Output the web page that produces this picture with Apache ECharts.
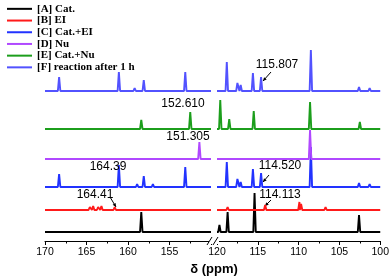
<!DOCTYPE html>
<html>
<head>
<meta charset="utf-8">
<script src="https://cdn.jsdelivr.net/npm/echarts@6/dist/echarts.min.js"></script>
<style>html,body{margin:0;padding:0;background:#fff;}#c{width:392px;height:277px;}</style>
</head>
<body>
<div id="c"></div>
<script>
// ---- data ----
const traceNames = ['[A] Cat.', '[B] EI', '[C] Cat.+EI', '[D] Nu', '[E] Cat.+Nu', '[F] reaction after 1 h'];
const traceColors = ['#000000', '#ff1a1a', '#2233ff', '#b048ff', '#1c9e1c', '#5252ff'];
// vertical stacking offsets of each trace (intensity units)
const traceOffsets = [9, 31, 54, 82, 112, 150];
// peaks: [ppm, height]
const peaksA = [[158.4, 20], [119.7, 7], [118.7, 20], [115.4, 39], [102.6, 17]];
const peaksB = [[164.6, 3], [164.2, 4], [163.6, 3], [163.2, 4], [161.6, 3], [158.4, 2], [118.7, 3], [114.1, 5], [109.9, 8], [109.7, 6], [106.7, 3]];
const peaksC = [[168.3, 13], [161.1, 22], [158.9, 3], [158.1, 11], [157.0, 3], [153.1, 20], [118.8, 25], [117.5, 8], [117.1, 5], [115.6, 18], [114.6, 14], [108.5, 40], [102.6, 4], [101.3, 3]];
const peaksD = [[151.4, 17], [108.6, 29]];
const peaksE = [[158.4, 9], [152.5, 17], [119.6, 29], [118.5, 10], [115.5, 18], [108.6, 27], [102.5, 7]];
const peaksF = [[168.3, 14], [161.1, 19], [159.2, 3], [158.1, 11], [153.1, 19], [118.8, 29], [117.5, 8], [117.1, 6], [115.6, 18], [114.6, 14], [108.5, 41], [102.6, 4], [101.3, 3]];
const allPeaks = [peaksA, peaksB, peaksC, peaksD, peaksE, peaksF];
const leftRange = [150, 170];
const rightRange = [100, 120];
const tickStep = 5;

function buildLine(peaks, base, range) {
  const w = 0.15;
  const pts = [[range[0], base]];
  peaks.filter(p => p[0] >= range[0] && p[0] <= range[1])
    .sort((a, b) => a[0] - b[0])
    .forEach(p => {
      pts.push([p[0] - w, base], [p[0], base + p[1]], [p[0] + w, base]);
    });
  pts.push([range[1], base]);
  return pts;
}

const series = [];
allPeaks.forEach((pk, i) => {
  [leftRange, rightRange].forEach((rg, g) => {
    series.push({
      type: 'line', name: traceNames[i], xAxisIndex: g, yAxisIndex: g,
      data: buildLine(pk, traceOffsets[i], rg),
      showSymbol: false, symbol: 'none', animation: false,
      lineStyle: { color: traceColors[i], width: 1.9 },
      itemStyle: { color: traceColors[i] }
    });
  });
});

const axisCommon = {
  type: 'value', inverse: true, interval: tickStep,
  axisLine: { show: true, lineStyle: { color: '#000', width: 1 } },
  axisTick: { show: true, inside: false, length: 4, lineStyle: { color: '#000' } },
  minorTick: { show: true, splitNumber: 2, length: 2.5, lineStyle: { color: '#000' } },
  axisLabel: { color: '#000', fontSize: 10.5, fontFamily: 'Liberation Sans, Arial, sans-serif', margin: 6 },
  splitLine: { show: false }
};

const chart = echarts.init(document.getElementById('c'), null, { renderer: 'canvas' });

function arrow(x1, y1, x2, y2) {
  const ang = Math.atan2(y2 - y1, x2 - x1);
  const L = 4, a = 0.45;
  return [
    { type: 'line', shape: { x1: x1, y1: y1, x2: x2, y2: y2 }, style: { stroke: '#000', lineWidth: 1 } },
    { type: 'polygon', shape: { points: [[x2, y2], [x2 - L * Math.cos(ang - a), y2 - L * Math.sin(ang - a)], [x2 - L * Math.cos(ang + a), y2 - L * Math.sin(ang + a)]] }, style: { fill: '#000' } }
  ];
}
const annFont = '12px "Liberation Sans", Arial, sans-serif';
function label(txt, x, y) {
  return { type: 'text', x: x, y: y, style: { text: txt, font: annFont, fill: '#000', align: 'center', verticalAlign: 'middle' }, z: 10 };
}

chart.setOption({
  animation: false,
  backgroundColor: '#fff',
  legend: {
    orient: 'vertical', left: 2, top: -2, itemGap: 0,
    itemWidth: 25, itemHeight: 2, icon: 'rect',
    data: traceNames,
    textStyle: { fontFamily: '"Liberation Serif", "Times New Roman", serif', fontWeight: 'bold', fontSize: 11, color: '#000', lineHeight: 11.7 }
  },
  grid: [
    { left: 45, width: 166, top: 41, height: 200 },
    { left: 217, width: 167, top: 41, height: 200 }
  ],
  xAxis: [
    Object.assign({}, axisCommon, { gridIndex: 0, min: leftRange[0], max: leftRange[1],
      axisLabel: Object.assign({}, axisCommon.axisLabel, { showMinLabel: false }) }),
    Object.assign({}, axisCommon, { gridIndex: 1, min: rightRange[0], max: rightRange[1] })
  ],
  yAxis: [
    { type: 'value', gridIndex: 0, min: 0, max: 200, show: false },
    { type: 'value', gridIndex: 1, min: 0, max: 200, show: false }
  ],
  series: series,
  graphic: [
    { type: 'rect', shape: { x: 209, y: 238, width: 10, height: 6 }, style: { fill: '#fff' }, z: 5 },
    { type: 'line', shape: { x1: 207, y1: 245, x2: 212, y2: 237 }, style: { stroke: '#000', lineWidth: 1 }, z: 6 },
    { type: 'line', shape: { x1: 213, y1: 245, x2: 218, y2: 237 }, style: { stroke: '#000', lineWidth: 1 }, z: 6 },
    { type: 'text', x: 214, y: 269, style: { text: 'δ (ppm)', font: 'bold 13px "Liberation Sans", Arial, sans-serif', fill: '#000', align: 'center', verticalAlign: 'middle' } },
    label('115.807', 277, 65),
    ...arrow(271, 72, 263, 81),
    label('152.610', 183, 104),
    label('151.305', 188, 137),
    label('164.39', 108, 167),
    label('164.41', 95, 195),
    ...arrow(110, 197, 116, 207),
    label('114.520', 280, 166),
    ...arrow(269, 175, 263, 182),
    label('114.113', 280, 195),
    ...arrow(271, 200, 265, 206)
  ]
});
</script>
</body>
</html>
